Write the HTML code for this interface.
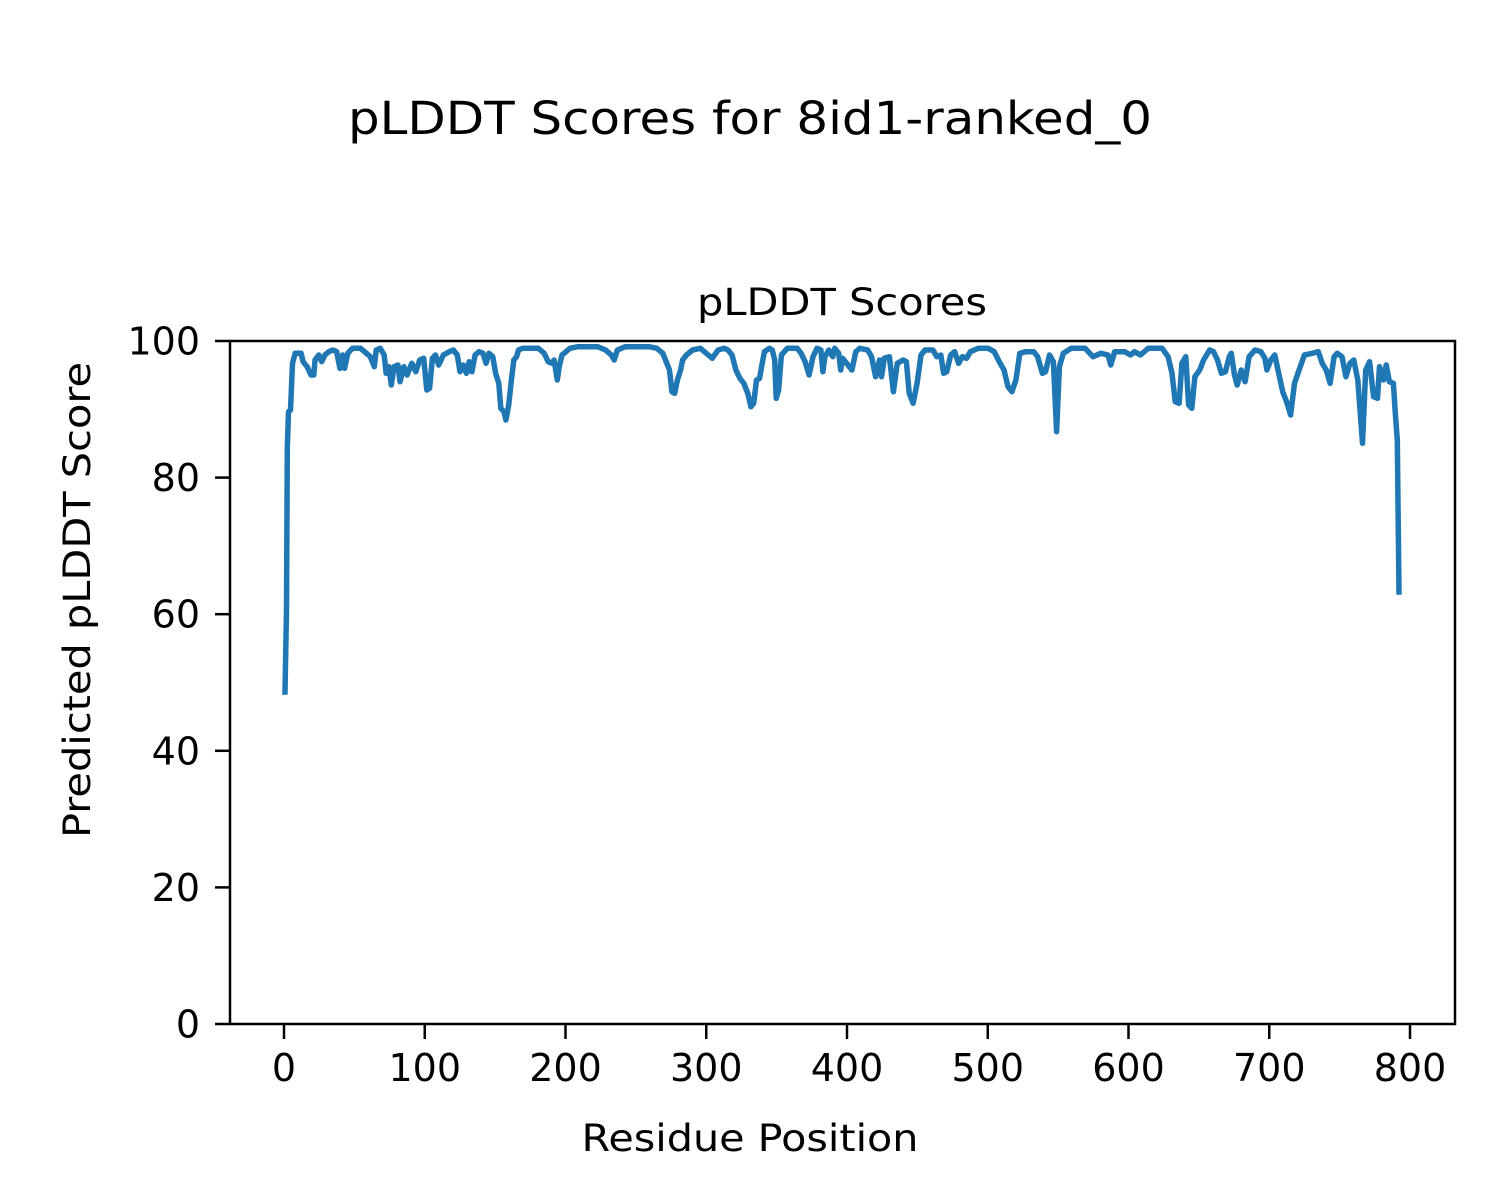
<!DOCTYPE html>
<html><head><meta charset="utf-8"><style>html,body{margin:0;padding:0;background:#fff}svg{display:block}text{font-family:"DejaVu Sans","Liberation Sans",sans-serif;fill:#000}</style></head>
<body>
<svg id="s" width="1500" height="1200" viewBox="0 0 1500 1200" xmlns="http://www.w3.org/2000/svg">
<rect width="1500" height="1200" fill="#fff"/>
<text x="750" y="134" font-size="45" text-anchor="middle" textLength="804" lengthAdjust="spacingAndGlyphs">pLDDT Scores for 8id1-ranked_0</text>
<text x="842" y="315" font-size="37.5" text-anchor="middle" textLength="290" lengthAdjust="spacingAndGlyphs">pLDDT Scores</text>
<text x="750" y="1151" font-size="37.5" text-anchor="middle" textLength="337" lengthAdjust="spacingAndGlyphs">Residue Position</text>
<text transform="translate(90,600) rotate(-90)" font-size="37.5" text-anchor="middle" textLength="476" lengthAdjust="spacingAndGlyphs">Predicted pLDDT Score</text>
<g id="ticks" stroke="#000" stroke-width="2.5"></g>
<g id="labels" font-size="38"></g>
<path id="line" fill="none" stroke="#1f77b4" stroke-width="5.5" stroke-linejoin="round" stroke-linecap="square"/>
<rect x="230" y="341" width="1225" height="683" fill="none" stroke="#000" stroke-width="2.5"/>
</svg>
<script>
var z1=[145,355,148,245,153,240,158,100,165,70,180,70,185,95,195,110,205,135,212,135,215,90,225,75,232,95,240,75,250,65,260,60,270,65,278,115,285,75,290,115,298,70,310,55,330,55,345,70,355,80,365,110,370,60,380,55,390,75,395,130,402,110,408,165,415,110,425,105,430,155,440,110,448,135,460,100,470,125,480,90,490,85,498,180,505,175,512,85,520,75,528,105,540,75,555,65,565,60,575,75,582,125,590,105,598,130,605,95,612,125,620,75,630,65,640,70,648,100,655,70,665,80,672,130,680,160,685,235,693,245,698,270,705,225,712,150,718,90,725,80,730,60,740,55,780,55,795,70,805,95,815,100,820,90,828,150,833,110,840,75,850,65,860,55,880,50,930,50,950,60,965,75,972,90,980,60,1000,50,1060,50,1080,55,1095,70,1105,100,1112,120,1118,185,1125,190,1132,150,1140,120,1145,90,1155,75,1170,60,1190,55,1205,70,1220,85,1235,60,1250,55,1260,60,1270,75,1280,120,1290,145,1300,160,1310,190,1318,230,1325,220,1332,150,1340,145,1345,110,1352,65,1365,55,1372,60,1378,90,1382,205,1388,180,1395,75,1410,55,1435,55,1445,70,1455,95,1465,135,1475,80,1485,55,1495,60,1500,125,1505,80,1515,60,1525,80,1530,55,1540,70,1545,120,1550,85];
var z2=[30,120,40,65,50,55,70,60,80,80,90,140,100,90,105,140,112,85,125,80,135,185,145,100,160,90,168,95,175,190,185,220,195,160,205,75,215,60,235,60,245,80,255,75,262,130,270,125,280,75,290,65,300,100,310,80,320,85,330,65,350,55,375,55,390,65,405,100,415,120,425,170,435,185,445,150,455,70,470,65,490,65,500,80,512,130,520,125,530,75,540,95,548,305,555,110,565,70,585,55,620,55,640,80,660,70,678,75,685,105,695,65,720,65,735,75,745,65,760,75,780,55,815,55,830,80,840,130,848,215,858,220,865,100,875,80,882,225,890,235,898,140,910,120,920,90,935,60,945,65,955,90,965,130,975,125,985,80,990,70,998,135,1005,165,1015,120,1025,155,1035,80,1050,60,1065,65,1075,85,1080,120,1090,90,1100,75,1110,130,1120,185,1130,215,1140,255,1150,160,1160,125,1175,75,1195,70,1210,65,1220,100,1230,120,1240,160,1250,80,1258,70,1270,80,1280,140,1290,100,1300,90,1310,150,1322,340,1330,120,1340,95,1350,200,1360,205,1365,110,1375,150,1382,105,1390,155,1400,160,1405,250,1410,330];
var d="M285,692L286.5,610",i;
for(i=0;i<z1.length;i+=2){d+="L"+(230+z1[i]/2.53).toFixed(1)+","+(330+z1[i+1]/3).toFixed(1);}
for(i=0;i<z2.length;i+=2){d+="L"+(840+z2[i]/2.53).toFixed(1)+","+(330+z2[i+1]/3).toFixed(1);}
d+="L1399,592";
document.getElementById("line").setAttribute("d",d);
var t="",l="";
for(i=0;i<=8;i++){var x=284+i*100*1.4075;t+='<line x1="'+x+'" y1="1024" x2="'+x+'" y2="1039"/>';l+='<text x="'+x+'" y="1081" text-anchor="middle">'+(i*100)+'</text>';}
for(i=0;i<=5;i++){var y=1024-i*20*6.83;t+='<line x1="215" y1="'+y+'" x2="230" y2="'+y+'"/>';l+='<text x="200" y="'+(y+13.5)+'" text-anchor="end">'+(i*20)+'</text>';}
document.getElementById("ticks").innerHTML=t;
document.getElementById("labels").innerHTML=l;
</script>
</body></html>
